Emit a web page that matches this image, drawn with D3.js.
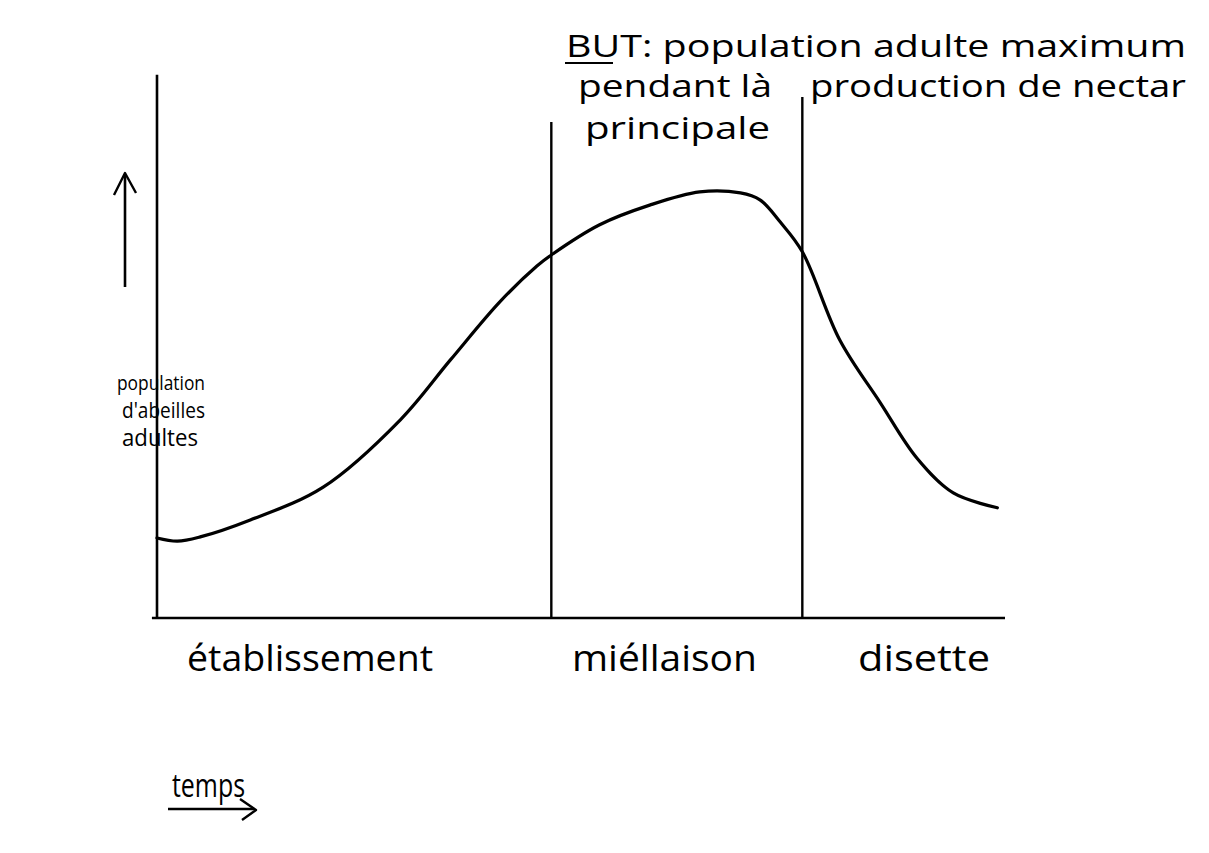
<!DOCTYPE html>
<html><head><meta charset="utf-8">
<script src="https://cdn.jsdelivr.net/npm/d3@7"></script>
<style>html,body{margin:0;background:#fff}</style></head>
<body><svg id="c" width="1209" height="853"></svg>
<script>
// ---- data ----
const time = [0, 2.4, 5.1, 11.0, 19.6, 28.7, 34.6, 40.4, 44.8, 46.5, 52.2, 58.1, 64.0, 68.8, 71.1, 73.5, 76.1, 80.5, 85.3, 89.6, 93.9, 99.1];
const population = [15.1, 14.5, 15.3, 18.5, 24.7, 37.4, 48.7, 59.6, 66.4, 68.5, 74.2, 77.9, 80.4, 80.2, 78.9, 74.7, 69.1, 52.5, 40.6, 30.2, 23.6, 20.8];
const phaseNames = ["établissement", "miéllaison", "disette"];
const phaseBounds = [46.5, 76.1];          // time where phases change
const phaseLineTop = [93.6, 98.3];         // height of boundary lines (population units)
const goalLines = ["BUT: population adulte maximum", "pendant là", "production de nectar", "principale"];
const yLabelLines = ["population", "d'abeilles", "adultes"];
const xLabel = "temps";

// ---- scales ----
const svg = d3.select("#c");
const x = d3.scaleLinear().domain([0, 100]).range([157, 1005]);
const y = d3.scaleLinear().domain([0, 100]).range([618, 88]);
const ink = "#000";
const font = "'Open Sans', 'DejaVu Sans', sans-serif";

// axes (hand-drawn style: plain lines)
svg.append("line").attr("x1", x(0)).attr("x2", x(0)).attr("y1", y(0)).attr("y2", y(102.5))
  .attr("stroke", ink).attr("stroke-width", 2.6);
svg.append("line").attr("x1", x(-0.6)).attr("x2", x(100)).attr("y1", y(0)).attr("y2", y(0))
  .attr("stroke", ink).attr("stroke-width", 2.6);

// phase boundary lines
svg.selectAll("line.phase").data(phaseBounds).join("line").attr("class", "phase")
  .attr("x1", d => x(d)).attr("x2", d => x(d))
  .attr("y1", y(0)).attr("y2", (d, i) => y(phaseLineTop[i]))
  .attr("stroke", ink).attr("stroke-width", 2.4);

// curve
const pts = time.map((t, i) => [t, population[i]]);
svg.append("path").datum(pts)
  .attr("d", d3.line().x(d => x(d[0])).y(d => y(d[1])).curve(d3.curveCatmullRom.alpha(0.5)))
  .attr("fill", "none").attr("stroke", ink).attr("stroke-width", 3.2).attr("stroke-linecap", "round");

// phase labels
const phaseLabelPos = [[187, 433], [572, 757], [858, 990]];
svg.selectAll("text.phase").data(phaseNames).join("text").attr("class", "phase")
  .attr("x", (d, i) => phaseLabelPos[i][0]).attr("y", 671)
  .attr("textLength", (d, i) => phaseLabelPos[i][1] - phaseLabelPos[i][0])
  .attr("lengthAdjust", "spacingAndGlyphs")
  .attr("font-family", font).attr("font-size", 36).attr("fill", ink)
  .text(d => d);

// goal text
const goalPos = [[566, 1186, 57], [578, 772, 97], [810, 1186, 97], [585, 770, 139]];
svg.selectAll("text.goal").data(goalLines).join("text").attr("class", "goal")
  .attr("x", (d, i) => goalPos[i][0]).attr("y", (d, i) => goalPos[i][2])
  .attr("textLength", (d, i) => goalPos[i][1] - goalPos[i][0])
  .attr("lengthAdjust", "spacingAndGlyphs")
  .attr("font-family", font).attr("font-size", 31).attr("fill", ink)
  .text(d => d);
svg.append("line").attr("x1", 565).attr("x2", 613).attr("y1", 63).attr("y2", 63)
  .attr("stroke", ink).attr("stroke-width", 2.2);

// y label
const yLabPos = [[117, 205, 390, 20], [122, 205, 418, 21], [122, 198, 446, 23]];
svg.selectAll("text.ylab").data(yLabelLines).join("text").attr("class", "ylab")
  .attr("x", (d, i) => yLabPos[i][0]).attr("y", (d, i) => yLabPos[i][2])
  .attr("textLength", (d, i) => yLabPos[i][1] - yLabPos[i][0])
  .attr("lengthAdjust", "spacingAndGlyphs")
  .attr("font-family", font).attr("font-size", (d, i) => yLabPos[i][3]).attr("fill", ink)
  .text(d => d);

// up arrow
svg.append("line").attr("x1", 125).attr("x2", 125).attr("y1", 287).attr("y2", 174)
  .attr("stroke", ink).attr("stroke-width", 2.6);
svg.append("path").attr("d", "M114,195 L125,173 L136,193").attr("fill", "none")
  .attr("stroke", ink).attr("stroke-width", 2.4).attr("stroke-linejoin", "round");

// temps label with arrow
svg.append("text").attr("x", 172).attr("y", 797).attr("textLength", 73).attr("lengthAdjust", "spacingAndGlyphs")
  .attr("font-family", font).attr("font-size", 32).attr("fill", ink).text(xLabel);
svg.append("path").attr("d", "M168,809 L254,809").attr("stroke", ink).attr("stroke-width", 2.4);
svg.append("path").attr("d", "M240,799 L256,810 L242,820").attr("fill", "none")
  .attr("stroke", ink).attr("stroke-width", 2.4).attr("stroke-linejoin", "round");
</script>
</body></html>
